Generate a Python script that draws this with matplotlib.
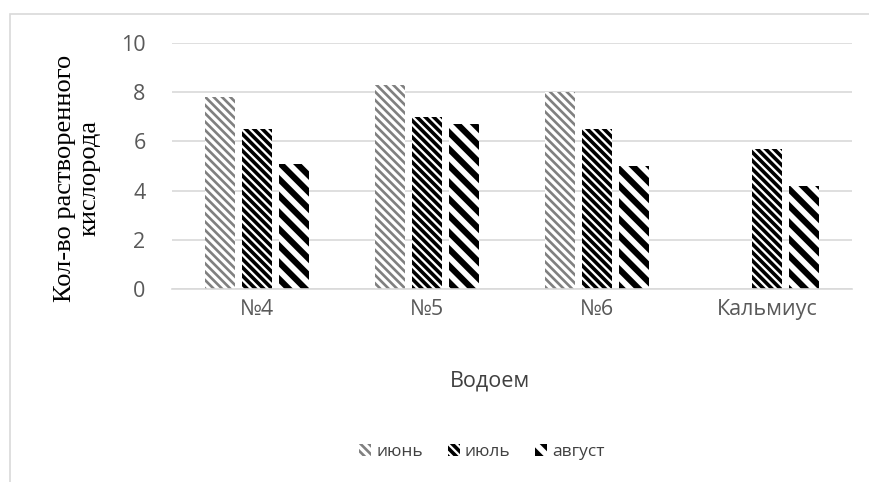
import matplotlib
matplotlib.use('Agg')
import matplotlib.pyplot as plt
from matplotlib.patches import Rectangle
import numpy as np

plt.rcParams['font.family'] = ['Open Sans', 'DejaVu Sans']

# растворённый кислород по водоёмам
categories = ['№4', '№5', '№6', 'Кальмиус']
months = ['июнь', 'июль', 'август']
june = [7.8, 8.3, 8.0, 0.0]
july = [6.5, 7.0, 6.5, 5.7]
august = [5.1, 6.7, 5.0, 4.2]
yticks = [0, 2, 4, 6, 8, 10]

# штриховка: плотность, цвет линий, толщина линий
styles = [
    ('\\\\\\\\', '#808080', 1.9),
    ('\\\\\\\\', '#000000', 2.6),
    ('\\\\', '#000000', 4.4),
]


def set_hlw(patch, lw):
    try:
        patch.set_hatch_linewidth(lw)
    except AttributeError:
        plt.rcParams['hatch.linewidth'] = lw


fig = plt.figure(figsize=(8.69, 4.82), dpi=100)
ax = fig.add_axes([172 / 869, 1 - 289 / 482, 680 / 869, 246 / 482])

x = np.arange(len(categories))
width = 0.176
step = 0.22
series = [june, july, august]
handles = []
for i, (vals, (hatch, col, hlw)) in enumerate(zip(series, styles)):
    bars = ax.bar(x + (i - 1) * step, vals, width, color='white',
                  edgecolor=col, hatch=hatch, linewidth=0, label=months[i])
    for b in bars:
        set_hlw(b, hlw)
    handles.append(bars)

ax.set_xlim(-0.5, len(categories) - 0.5)
ax.set_ylim(0, 10)
ax.set_yticks(yticks)
ax.set_xticks(x)
ax.set_xticklabels(categories)
ax.tick_params(length=0, labelsize=15.5, colors='#595959', pad=7)
ax.tick_params(axis='y', pad=19)
ax.yaxis.grid(True, color='#d9d9d9', linewidth=1.2)
ax.set_axisbelow(True)
for s in ['top', 'right', 'left']:
    ax.spines[s].set_visible(False)
ax.spines['bottom'].set_color('#d9d9d9')
ax.spines['bottom'].set_linewidth(1.2)

fig.text(490 / 869, 1 - 381 / 482, 'Водоем', ha='center', va='center',
         fontsize=15.5, color='#404040')

fig.text(77 / 869, 1 - 178 / 482, 'Кол-во растворенного\nкислорода',
         rotation=90, ha='center', va='center', fontsize=19,
         family='Liberation Serif', linespacing=1.15)

leg = fig.legend(handles=handles, labels=months, loc='center',
                 bbox_to_anchor=(482 / 869, 1 - 452 / 482), ncol=3,
                 frameon=False, fontsize=12.5, handlelength=0.7,
                 handleheight=0.7, handletextpad=0.3, columnspacing=1.4)
for t in leg.get_texts():
    t.set_color('#404040')
for h, (hatch, col, hlw) in zip(leg.legend_handles, styles):
    set_hlw(h, hlw)

# рамка области диаграммы
fig.patches.append(Rectangle((9.5 / 869, -0.1), 1.2, 1 - 14 / 482 + 0.1,
                             transform=fig.transFigure, fill=False,
                             edgecolor='#d9d9d9', linewidth=1.2))

fig.savefig('out.png', dpi=100)
